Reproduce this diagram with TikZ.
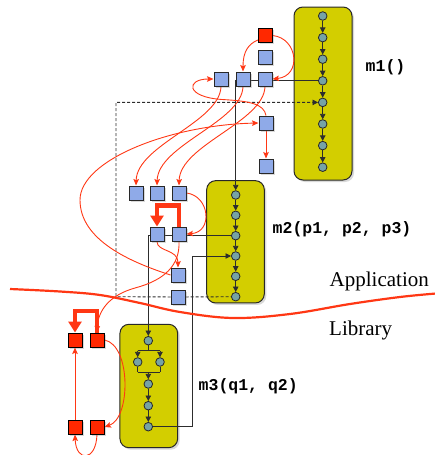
\documentclass[tikz,border=0pt]{standalone}
\usepackage{fontspec}
\setmainfont{Liberation Serif}
\setmonofont{Liberation Mono}
\usetikzlibrary{arrows.meta,shadows,calc}
\definecolor{ybox}{RGB}{211,206,0}
\definecolor{sqblue}{RGB}{143,170,232}
\definecolor{sqred}{RGB}{255,40,0}
\definecolor{dotcol}{RGB}{118,163,165}
\definecolor{bord}{RGB}{40,40,40}
\definecolor{rline}{RGB}{255,55,20}
\definecolor{cline}{RGB}{45,45,45}
\pgfdeclarelayer{boxes}
\pgfdeclarelayer{lines}
\pgfsetlayers{boxes,lines,main}
\begin{document}
\begin{tikzpicture}[x=1pt,y=-1pt,
  bsq/.style={draw=bord, fill=sqblue, minimum size=14pt, inner sep=0pt, line width=1pt,
    drop shadow={shadow xshift=1.5pt,shadow yshift=-1.5pt,opacity=0.3}},
  rsq/.style={bsq, fill=sqred, draw=black},
  dot/.style={circle, draw=bord, fill=dotcol, minimum size=8.6pt, inner sep=0pt, line width=0.8pt},
  meth/.style={draw=bord, fill=ybox, rounded corners=9pt, line width=1pt, inner sep=0pt,
    drop shadow={shadow xshift=2pt,shadow yshift=-2pt,opacity=0.3}},
  flow/.style={draw=cline, line width=0.9pt, -{Triangle[length=5.5pt,width=5.5pt]}},
  conn/.style={draw=cline, line width=0.9pt},
  dsh/.style={draw=cline, line width=0.9pt, dash pattern=on 3pt off 2pt},
  rarr/.style={draw=rline, line width=0.9pt, -{Stealth[length=6.5pt,width=5.5pt,inset=1.2pt]}},
  rbig/.style={draw=rline, line width=4.5pt, -{Triangle[length=11pt,width=13pt]}},
  mlabel/.style={anchor=base west, inner sep=0pt, font=\ttfamily\bfseries\fontsize{16.5}{18}\selectfont},
  layerlabel/.style={anchor=base west, inner sep=0pt, font=\fontsize{21}{24}\selectfont}
]
\clip (0,0) rectangle (435,455);
\useasboundingbox (0,0) rectangle (435,455);

% method boxes
\begin{pgfonlayer}{boxes}
\node[meth, minimum width=58pt, minimum height=173pt] (m1box) at (323,93.5) {};
\node[meth, minimum width=57.6pt, minimum height=122.3pt] (m2box) at (235.5,241.8) {};
\node[meth, minimum width=57.7pt, minimum height=123.4pt] (m3box) at (148.8,386) {};
\end{pgfonlayer}

% circles m1
\foreach \i/\y in {1/16,2/37.6,3/59.2,4/80.8,5/102.4,6/124,7/145.6,8/167.2}
  \node[dot] (a\i) at (322.7,\y) {};
% circles m2
\foreach \i/\y in {1/195,2/215.3,3/235.7,4/256,5/276.3,6/296.7}
  \node[dot] (b\i) at (235.7,\y) {};
% circles m3
\node[dot] (c1) at (148.3,340.7) {};
\node[dot] (c2a) at (137.7,362) {};
\node[dot] (c2b) at (160,362) {};
\node[dot] (c4) at (148.3,384) {};
\node[dot] (c5) at (148.3,405.7) {};
\node[dot] (c6) at (148.3,426.7) {};

% squares
\node[rsq] (R) at (265,35.5) {};
\node[bsq] (P) at (265,57) {};
\node[bsq] (A) at (221,79) {};
\node[bsq] (B) at (243,79) {};
\node[bsq] (C) at (265,79) {};
\node[bsq] (D) at (266,123) {};
\node[bsq] (E) at (266,166) {};
\node[bsq] (F) at (136,193) {};
\node[bsq] (G) at (157,193) {};
\node[bsq] (H) at (179,193) {};
\node[bsq] (I) at (157,234) {};
\node[bsq] (J) at (179,234) {};
\node[bsq] (K) at (178,275) {};
\node[bsq] (L) at (178,297) {};
\node[rsq] (Q1) at (75,340) {};
\node[rsq] (Q2) at (97,340) {};
\node[rsq] (Q3) at (75,427) {};
\node[rsq] (Q4) at (97,427) {};

% labels
\node[mlabel] (l1) at (365.5,71) {m1()};
\node[mlabel] (l2) at (272.5,233) {m2(p1, p2, p3)};
\node[mlabel] (l3) at (198.5,390) {m3(q1, q2)};
\node[layerlabel] (app) at (329.5,286) {Application};
\node[layerlabel] (lib) at (329,335) {Library};

% coordinates
\coordinate (dbl) at (116,296.7);
\coordinate (f1) at (148.3,350.7);
\coordinate (fl) at (137.7,350.7);
\coordinate (fr) at (160,350.7);
\coordinate (j1) at (148.3,372.3);
\coordinate (jl) at (137.7,372.3);
\coordinate (jr) at (160,372.3);
\coordinate (rt) at (192.5,426.7);
\coordinate (br1) at (179,205.5);
\coordinate (br2) at (97,311);
\coordinate (Rw) at (258,40);
\coordinate (lp) at (222,99.5);
\coordinate (kl) at (80,200);
\coordinate (jq) at (135,288);

\begin{pgfonlayer}{lines}
% flow chains
\foreach \i [evaluate=\i as \j using int(\i+1)] in {1,...,7}
  \draw[flow] (a\i) -- (a\j);
\foreach \i [evaluate=\i as \j using int(\i+1)] in {1,...,5}
  \draw[flow] (b\i) -- (b\j);
\draw[conn] (c1) -- (f1);
\draw[conn] (fl) -- (fr);
\draw[flow] (fl) -- (c2a);
\draw[flow] (fr) -- (c2b);
\draw[conn] (c2a) -- (jl);
\draw[conn] (c2b) -- (jr);
\draw[conn] (jl) -- (jr);
\draw[flow] (j1) -- (c4);
\draw[flow] (c4) -- (c5);
\draw[flow] (c5) -- (c6);
% calls and returns
\draw[flow] (a4) -| (b1);
\draw[flow] (b3) -| (c1);
\draw[flow] (c6) -- (rt) |- (b4);
\draw[dsh] (L) -- (b6);
\draw[dsh, -{Triangle[length=5.5pt,width=5.5pt]}] (L) -- (dbl) |- (a5);

% red data-flow curves
\draw[rarr] (Rw) .. controls (248,44) and (243,52) .. (B.north);
\draw[rarr] (R.east) .. controls (298,38) and (302,76) .. (C.east);
\draw[rarr] (D.north) .. controls (264,104) and (250,101) .. (lp)
   .. controls (185,97) and (186,79) .. (A.west);
\draw[rarr] (A.south) .. controls (220,122) and (137,145) .. (F.north);
\draw[rarr] (B.south) .. controls (242,122) and (158,145) .. (G.north);
\draw[rarr] (C.south) .. controls (264,122) and (180,145) .. (H.north);
\draw[rarr] (D.south) -- (E.north);
\draw[rarr] (K.west) .. controls (130,262) and (80,240) .. (kl)
   .. controls (80,160) and (170,125) .. (D.west);
\draw[rarr] (H.east) .. controls (210,196) and (213,232) .. (J.east);
\draw[rarr] (I.south) .. controls (157,252) and (178,249) .. (K.north);
\draw[rarr] (J.south) .. controls (180,265) and (165,280) .. (jq)
   .. controls (110,295) and (98,310) .. (Q2.north);
\draw[rarr] (Q2.east) .. controls (131,345) and (131,418) .. (Q4.east);
\draw[rarr] (Q3.north) -- (Q1.south);
\draw[rarr] (Q4.south) .. controls (96,462) and (76,462) .. (Q3.south);
% thick brackets
\draw[rbig] (J.north) -- (br1) -| (I.north);
\draw[rbig] (Q2.north) -- (br2) -| (Q1.north);
\end{pgfonlayer}

% application / library separator
\draw[draw=rline, line width=2.2pt] plot[smooth, tension=0.6] coordinates
  {(10,289) (60,291.5) (100,295) (140,303) (180,312) (233,318) (290,314) (350,304) (400,297) (436,293.5)};
\end{tikzpicture}
\end{document}
